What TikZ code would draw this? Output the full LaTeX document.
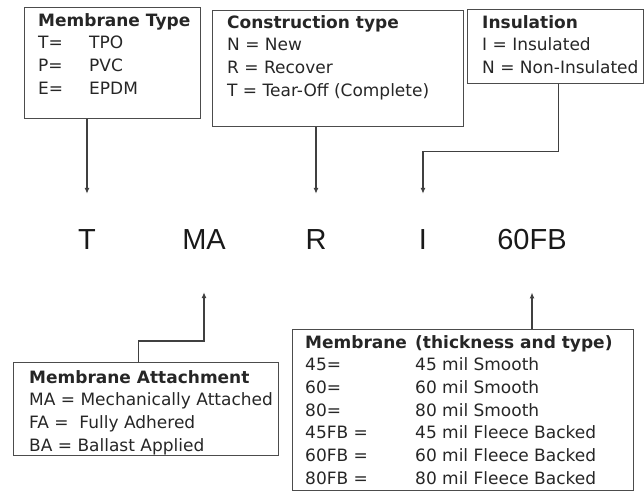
\documentclass[tikz,border=0pt]{standalone}
\usepackage{fontspec}
\setmainfont{DejaVu Sans}
\newfontfamily\codefont{Liberation Sans}
\usetikzlibrary{arrows.meta}

\tikzset{
  box/.style={draw=black!70, line width=1.3pt, anchor=north west, inner sep=0pt},
  txt/.style={anchor=base west, inner sep=0pt, text=black!85,
    font=\fontsize{17}{22.7}\selectfont},
  code/.style={inner sep=0pt, text=black!90, font=\codefont\fontsize{29}{29}\selectfont},
  arr/.style={draw=black!75, line width=1.3pt, -{Latex[length=6pt,width=5pt]}},
}

\begin{document}
\begin{tikzpicture}[x=1pt,y=-1pt]
\useasboundingbox (0,0) rectangle (644,491);

% the code
\node[code] (tT) at (87,240) {T};
\node[code] (tMA) at (204,240) {MA};
\node[code] (tR) at (316,240) {R};
\node[code] (tI) at (423,240) {I};
\node[code] (t60) at (532,240) {60FB};

% top boxes
\node[box, minimum width=176pt, minimum height=111pt] (typebox) at (24,7) {};
\node[txt] (typetxt) at (38,26)
{\begin{tabular}[t]{@{}p{51pt}@{}l@{}}
\multicolumn{2}{@{}l@{}}{\textbf{Membrane Type}}\\
T= & TPO\\
P= & PVC\\
E= & EPDM
\end{tabular}};

\node[box, minimum width=251pt, minimum height=116pt] (constbox) at (212,10) {};
\node[txt] (consttxt) at (227,28)
{\begin{tabular}[t]{@{}l@{}}
\textbf{Construction type}\\
N = New\\
R = Recover\\
T = Tear-Off (Complete)
\end{tabular}};

\node[box, minimum width=176pt, minimum height=74pt] (insbox) at (467,9) {};
\node[txt] (instxt) at (482,28)
{\begin{tabular}[t]{@{}l@{}}
\textbf{Insulation}\\
I = Insulated\\
N = Non-Insulated
\end{tabular}};

% bottom boxes
\node[box, minimum width=265pt, minimum height=93pt] (attbox) at (13,362) {};
\node[txt] (atttxt) at (29,383)
{\begin{tabular}[t]{@{}l@{}}
\textbf{Membrane Attachment}\\
MA = Mechanically Attached\\
FA = \ Fully Adhered\\
BA = Ballast Applied
\end{tabular}};

\node[box, minimum width=341pt, minimum height=161pt] (thickbox) at (292,329) {};
\node[txt] (thicktxt) at (305,348)
{\begin{tabular}[t]{@{}p{110pt}@{}l@{}}
\textbf{Membrane} & \textbf{(thickness and type)}\\
45= & 45 mil Smooth\\
60= & 60 mil Smooth\\
80= & 80 mil Smooth\\
45FB = & 45 mil Fleece Backed\\
60FB = & 60 mil Fleece Backed\\
80FB = & 80 mil Fleece Backed
\end{tabular}};

% connectors
\draw[arr, shorten >=36pt] (typebox.south -| tT) -- (tT.north);
\draw[arr, shorten >=36pt] (constbox.south -| tR) -- (tR.north);
\draw[arr, shorten >=36pt] ([xshift=3pt]insbox.south) -- ++(0,67) -| (tI.north);
\draw[arr, shorten >=42pt] ([xshift=-8pt]attbox.north) -- ++(0,-21) -| (tMA.south);
\draw[arr, shorten >=42pt] (thickbox.north -| t60) -- (t60.south);
\end{tikzpicture}
\end{document}
